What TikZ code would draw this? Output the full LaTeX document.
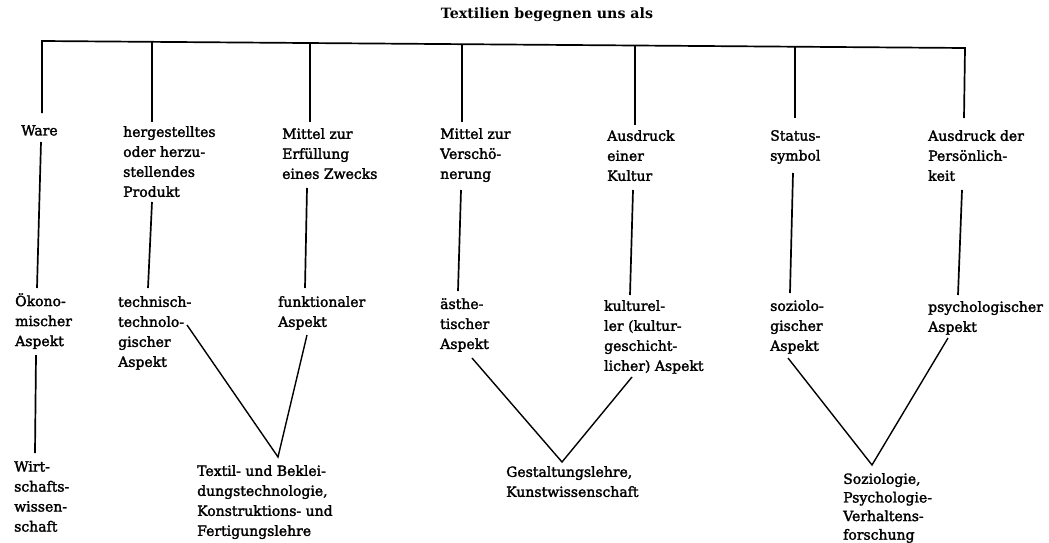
\documentclass[tikz,border=0pt]{standalone}
\usepackage{fontspec}
\setmainfont{DejaVu Serif}
\newfontfamily\lblfont[FakeBold=2]{DejaVu Serif}
\begin{document}
\begin{tikzpicture}[x=1pt,y=-1pt,
  lbl/.style={anchor=north west,inner sep=0pt,align=left,font=\lblfont\fontsize{14}{20}\selectfont},
  lblb/.style={lbl,font=\lblfont\fontsize{14}{18.6}\selectfont},
  ttl/.style={inner sep=0pt,font=\bfseries\fontsize{14.2}{17}\selectfont},
  ln/.style={draw=black,line width=1.7pt},
  vln/.style={draw=black,line width=1.4pt}]
\useasboundingbox (0,0) rectangle (1049,543);
% title
\node[ttl] (title) at (547,15) {Textilien begegnen uns als};
% level 1
\node[lbl] (ware) at (21,125) {Ware};
\node[lbl] (prod) at (123,126) {hergestelltes\\oder herzu-\\stellendes\\Produkt};
\node[lbl] (zweck) at (282,128) {Mittel zur\\Erfüllung\\eines Zwecks};
\node[lbl] (versch) at (440,128) {Mittel zur\\Verschö-\\nerung};
\node[lbl] (kultur) at (607,130) {Ausdruck\\einer\\Kultur};
\node[lbl] (status) at (770,130) {Status-\\symbol};
\node[lbl] (pers) at (928,130) {Ausdruck der\\Persönlich-\\keit};
% level 2
\node[lbl] (oek) at (15,293) {Ökono-\\mischer\\Aspekt};
\node[lbl] (tech) at (118,296) {technisch-\\technolo-\\gischer\\Aspekt};
\node[lbl] (funk) at (278,296) {funktionaler\\Aspekt};
\node[lbl] (aest) at (440,298) {ästhe-\\tischer\\Aspekt};
\node[lbl] (kult) at (604,300) {kulturel-\\ler (kultur-\\geschicht-\\licher) Aspekt};
\node[lbl] (soz) at (770,300) {soziolo-\\gischer\\Aspekt};
\node[lbl] (psy) at (928,301) {psychologischer\\Aspekt};
% level 3
\node[lbl] (wirt) at (14,461) {Wirt-\\schafts-\\wissen-\\schaft};
\node[lbl] (textil) at (197,465) {Textil- und Beklei-\\dungstechnologie,\\Konstruktions- und\\Fertigungslehre};
\node[lbl] (gest) at (506,466) {Gestaltungslehre,\\Kunstwissenschaft};
\node[lblb] (sozio) at (843,473) {Soziologie,\\Psychologie-\\Verhaltens-\\forschung};
% top bar
\coordinate (L) at (42,41);
\coordinate (R) at (965,48);
\coordinate (t2) at (152,41.8);
\coordinate (t3) at (310,43.0);
\coordinate (t4) at (462,44.2);
\coordinate (t5) at (635,45.5);
\coordinate (t6) at (795,46.7);
\draw[ln] (42,113) -- (L) -- (R) -- (964,118);
\draw[ln] (t2) -- (152,122);
\draw[ln] (t3) -- (310,122);
\draw[ln] (t4) -- (462,122);
\draw[ln] (t5) -- (635,125);
\draw[ln] (t6) -- (795,118);
% level 1 -> level 2
\draw[ln] (41,142) -- (37,288);
\draw[ln] (152,202) -- (148,288);
\draw[ln] (307,188) -- (305,288);
\draw[ln] (461,190) -- (458,291);
\draw[ln] (633,190) -- (630,295);
\draw[ln] (793,173) -- (790,293);
\draw[ln] (962,190) -- (958,295);
% level 2 -> level 3
\draw[ln] (36,355) -- (35,453);
\coordinate (v1) at (278,457);
\coordinate (v2) at (562,462);
\coordinate (v3) at (872,465);
\draw[vln] (187,325) -- (v1) -- (307,335);
\draw[vln] (472,358) -- (v2) -- (632,377);
\draw[vln] (788,358) -- (v3) -- (948,338);
\end{tikzpicture}
\end{document}
